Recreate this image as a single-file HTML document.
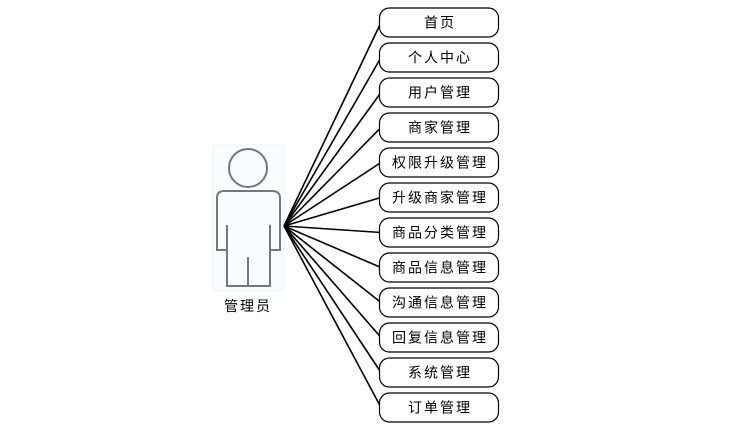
<!DOCTYPE html>
<html><head><meta charset="utf-8"><style>
body{margin:0;background:#fff;}
svg text{font-family:"Liberation Sans","Noto Sans CJK SC",sans-serif;font-size:14px;letter-spacing:2px;}
</style></head><body>
<svg width="749" height="435" viewBox="0 0 749 435" xmlns="http://www.w3.org/2000/svg">
<rect x="213" y="145" width="71" height="146" fill="#fafcff" stroke="#eef3fb" stroke-width="1"/>
<g fill="none" stroke="#777" stroke-width="2">
<circle cx="248" cy="168" r="19"/>
<path d="M227 250 H217 V198 Q217 191 224 191 H272 Q280 191 280 198 V250 H270 M227 225 V286 H270 V225 M248 257 V286"/>
</g>
<text x="248" y="311" text-anchor="middle" fill="#000">管理员</text>
<g stroke="#000" stroke-width="1.6">
<line x1="284" y1="226" x2="381" y2="22.5"/>
<line x1="284" y1="226" x2="381" y2="57.5"/>
<line x1="284" y1="226" x2="381" y2="92.5"/>
<line x1="284" y1="226" x2="381" y2="127.5"/>
<line x1="284" y1="226" x2="381" y2="162.5"/>
<line x1="284" y1="226" x2="381" y2="197.5"/>
<line x1="284" y1="226" x2="381" y2="232.5"/>
<line x1="284" y1="226" x2="381" y2="267.5"/>
<line x1="284" y1="226" x2="381" y2="302.5"/>
<line x1="284" y1="226" x2="381" y2="337.5"/>
<line x1="284" y1="226" x2="381" y2="372.5"/>
<line x1="284" y1="226" x2="381" y2="407.5"/>
</g>
<g fill="#fff" stroke="#000" stroke-width="1.2">
<rect x="379.5" y="8" width="119" height="29" rx="10"/>
<rect x="379.5" y="43" width="119" height="29" rx="10"/>
<rect x="379.5" y="78" width="119" height="29" rx="10"/>
<rect x="379.5" y="113" width="119" height="29" rx="10"/>
<rect x="379.5" y="148" width="119" height="29" rx="10"/>
<rect x="379.5" y="183" width="119" height="29" rx="10"/>
<rect x="379.5" y="218" width="119" height="29" rx="10"/>
<rect x="379.5" y="253" width="119" height="29" rx="10"/>
<rect x="379.5" y="288" width="119" height="29" rx="10"/>
<rect x="379.5" y="323" width="119" height="29" rx="10"/>
<rect x="379.5" y="358" width="119" height="29" rx="10"/>
<rect x="379.5" y="393" width="119" height="29" rx="10"/>
</g>
<g fill="#000" text-anchor="middle">
<text x="440" y="27.5">首页</text>
<text x="440" y="62.5">个人中心</text>
<text x="440" y="97.5">用户管理</text>
<text x="440" y="132.5">商家管理</text>
<text x="440" y="167.5">权限升级管理</text>
<text x="440" y="202.5">升级商家管理</text>
<text x="440" y="237.5">商品分类管理</text>
<text x="440" y="272.5">商品信息管理</text>
<text x="440" y="307.5">沟通信息管理</text>
<text x="440" y="342.5">回复信息管理</text>
<text x="440" y="377.5">系统管理</text>
<text x="440" y="412.5">订单管理</text>
</g>
</svg>
</body></html>
